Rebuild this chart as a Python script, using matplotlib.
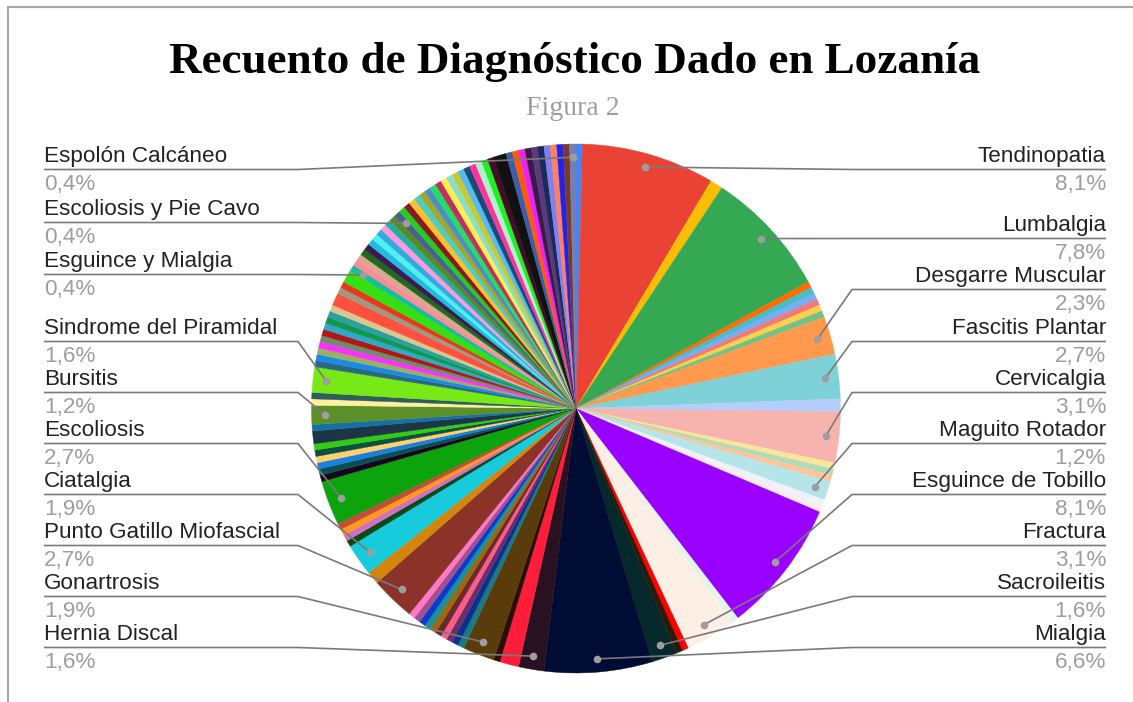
import numpy as np
import matplotlib.pyplot as plt
from matplotlib.lines import Line2D

# datos: diagnósticos en el orden de la hoja (los sin nombre visible van vacíos)
diagnosticos = (
    ["", "Tendinopatia", "", "Lumbalgia", "", "", "", "", "", "",
     "Desgarre Muscular", "Fascitis Plantar", "", "Cervicalgia", "", "", "",
     "Maguito Rotador", "", "", "Esguince de Tobillo", "", "Fractura", "", "",
     "Sacroileitis", "Mialgia", "Hernia Discal", "", "", "Gonartrosis"]
    + [""] * 10
    + ["Punto Gatillo Miofascial", "", "Ciatalgia", "", "", "", "", "Escoliosis"]
    + [""] * 8
    + ["Bursitis", "", "", "Sindrome del Piramidal"]
    + [""] * 14 + ["Esguince y Mialgia"]
    + [""] * 10 + ["Escoliosis y Pie Cavo"]
    + [""] * 28 + ["Espolón Calcáneo"]
)

conteos = (
    [1, 21, 2, 20, 1, 1, 1, 1, 1, 1,
     6, 7, 2, 8, 1, 1, 1,
     3, 1, 1, 21, 1, 8, 1, 1,
     4, 17, 4, 3, 1, 5]
    + [1] * 10
    + [7, 2, 5, 1, 1, 1, 1, 7]
    + [1, 1, 1, 1, 1, 1, 2, 1]
    + [3, 1, 1, 4]
    + [1, 1, 1, 1, 1, 1, 1, 1, 1, 1, 2, 1, 1, 2] + [1]
    + [1] * 10 + [1]
    + [1] * 17 + [2] + [1] * 10 + [1]
)

colores = (
    ["#4285f4", "#ea4335", "#fbbc04", "#34a853", "#ff6d01", "#46bdc6",
     "#7baaf7", "#f07b72", "#fcd04f", "#71c287", "#ff994d", "#7ed1d7",
     "#b3cefb", "#f7b4ae", "#fde49b", "#aedcba", "#ffc599", "#b5e5e8",
     "#ecf3fe", "#fdeceb", "#9900ff", "#e0f4ec", "#fdefe5", "#ff0000",
     "#2e1a06", "#05282a", "#000c33", "#2a1122", "#ff1d3a", "#2a0f08",
     "#5a3c0a"]
    + ["#1a7a80", "#0a3090", "#6b2e6b", "#ff5a8a", "#6a2a2a", "#a0650f",
       "#1a9098", "#0a3ad0", "#a0508a", "#ff78c8"]
    + ["#8b3229", "#d4860b", "#17cbdc", "#0a4a1a", "#d070c0", "#ff9a1a",
       "#c84a3a", "#0ca30c"]
    + ["#1a0520", "#0b5050", "#1a80e0", "#ffd070", "#0b5040", "#33cc11",
       "#1e3548", "#1670a8"]
    + ["#5b8f29", "#fff0a0", "#2f5f5a", "#77e916"]
    + ["#2a6a80", "#1a8ae8", "#98b060", "#ff30ff", "#708a70", "#b01818",
       "#30a8c8", "#109850", "#2aa0a0", "#d8c890", "#ff5040", "#a09880",
       "#e83a1a", "#33e011", "#1abc9c"]
    + ["#ff8a9a", "#d8a890", "#1e6a1e", "#3a1a50", "#22bbdd", "#50f0f0",
       "#33aadd", "#ff99dd", "#20b0a0", "#5a8a20", "#4a6090"]
    + ["#22cc22", "#8b1a1a", "#ffc02a", "#4ecdc4", "#a0a830", "#4f8fbf",
       "#22dd66", "#c2305a", "#ffee55", "#88e0c8", "#c8c830", "#55bbee",
       "#1a4a7a", "#ff3399", "#b0f0d0", "#22ee22", "#4a0a2a", "#111111",
       "#3a5fa8", "#ff5a0a", "#ee22ee", "#3a1a4a", "#5a3a7a", "#1a2a5a",
       "#8080ee", "#ff8060", "#2222ee", "#7a3a2a", "#6f7fb7"]
)

# posición vertical (px desde arriba) del nombre de cada etiqueta
etiquetas_der = {"Tendinopatia": 155, "Lumbalgia": 224, "Desgarre Muscular": 275,
                 "Fascitis Plantar": 327, "Cervicalgia": 378, "Maguito Rotador": 429,
                 "Esguince de Tobillo": 480, "Fractura": 531, "Sacroileitis": 582,
                 "Mialgia": 633}
etiquetas_izq = {"Espolón Calcáneo": 155, "Escoliosis y Pie Cavo": 208,
                 "Esguince y Mialgia": 260, "Sindrome del Piramidal": 327,
                 "Bursitis": 378, "Escoliosis": 429, "Ciatalgia": 480,
                 "Punto Gatillo Miofascial": 531, "Gonartrosis": 582,
                 "Hernia Discal": 633}

assert len(diagnosticos) == len(conteos) == len(colores)

W, H = 1133, 702
fig = plt.figure(figsize=(W / 100, H / 100), dpi=100)
ax = fig.add_axes([0, 0, 1, 1])

cx, cy, R = 576, H - 408.5, 264.5
wedges, _ = ax.pie(conteos, colors=colores, startangle=90, counterclock=False,
                   center=(cx, cy), radius=R, frame=True,
                   wedgeprops=dict(linewidth=0.3))
for w in wedges:
    w.set_edgecolor(w.get_facecolor())
ax.set_xlim(0, W)
ax.set_ylim(0, H)
ax.set_aspect('auto')
ax.axis('off')

total = sum(conteos)
gris_linea = "#7a7a7a"
gris_punto = "#9e9e9e"


def punto(nombre):
    w = wedges[diagnosticos.index(nombre)]
    a = np.deg2rad((w.theta1 + w.theta2) / 2)
    return cx + 0.95 * R * np.cos(a), cy + 0.95 * R * np.sin(a)


def pct(nombre):
    c = conteos[diagnosticos.index(nombre)]
    return f"{100 * c / total:.1f}%".replace(".", ",")


for lado, etiquetas in (("der", etiquetas_der), ("izq", etiquetas_izq)):
    for nombre, ny in etiquetas.items():
        px, py = punto(nombre)
        ly = H - (ny + 14.5)
        if lado == "der":
            xs, ys = [px, 852, 1106], [py, ly, ly]
            tx, ha = 1106, "right"
        else:
            xs, ys = [44, 298, px], [ly, ly, py]
            tx, ha = 44, "left"
        ax.plot(xs, ys, color=gris_linea, lw=1.2, solid_capstyle='butt')
        ax.plot(px, py, 'o', ms=5.5, color=gris_punto, mec='none')
        ax.text(tx, H - (ny + 7), nombre, ha=ha, va="baseline", fontsize=16.2,
                family="Liberation Sans", color="#222222")
        ax.text(tx, H - (ny + 35), pct(nombre), ha=ha, va="baseline", fontsize=16.2,
                family="Liberation Sans", color="#9e9e9e")

# título y subtítulo
ax.text(575, H - 73, "Recuento de Diagnóstico Dado en Lozanía", ha="center",
        va="baseline", fontsize=32.5, fontweight="bold", family="Liberation Serif",
        color="#000000")
ax.text(573, H - 115, "Figura 2", ha="center", va="baseline", fontsize=20,
        family="Liberation Serif", color="#9e9e9e")

# marco de la página
fig.add_artist(Line2D([8 / W, 1], [1 - 7 / H, 1 - 7 / H], color="#a8a8a8", lw=1.5))
fig.add_artist(Line2D([8 / W, 8 / W], [0, 1 - 7 / H], color="#a8a8a8", lw=1.5))

fig.savefig("out.png", dpi=100)
